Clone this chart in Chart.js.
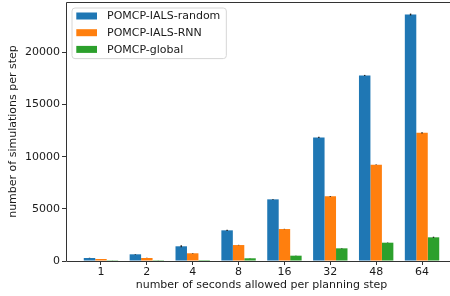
<!DOCTYPE html>
<html>
<head>
<meta charset="utf-8">
<script src="https://cdn.jsdelivr.net/npm/chart.js@4/dist/chart.umd.min.js"></script>
<style>
html, body { margin: 0; padding: 0; background: #fff; overflow: hidden; }
#wrap { width: 450px; height: 296px; overflow: hidden; }
</style>
</head>
<body>
<div id="wrap"><canvas id="chart" width="460" height="296"></canvas></div>
<script>
// categories (seconds allowed per planning step)
const seconds = ['1', '2', '4', '8', '16', '32', '48', '64'];
const seriesNames = ['POMCP-IALS-random', 'POMCP-IALS-RNN', 'POMCP-global'];
const seriesColors = ['#1f77b4', '#ff7f0e', '#2ca02c'];

// simulations per step
const ialsRandom = [290, 640, 1410, 2940, 5910, 11850, 17790, 23630];
const ialsRnn = [190, 290, 740, 1530, 3065, 6200, 9225, 12290];
const globalSims = [20, 80, 90, 260, 510, 1215, 1755, 2270];

// small error bars (barely visible)
const ialsRandomErr = [20, 30, 90, 60, 40, 60, 50, 90];
const ialsRnnErr = [10, 10, 20, 20, 20, 30, 30, 60];
const globalErr = [5, 5, 5, 10, 10, 20, 20, 60];

const yTicks = [0, 5000, 10000, 15000, 20000];

const seriesValues = [ialsRandom, ialsRnn, globalSims];
const seriesErrors = [ialsRandomErr, ialsRnnErr, globalErr];

const FONT = 'DejaVu Sans';
const TEXT = '#1a1a1a';

// draws the frame, error bars and the legend box
const extras = {
    id: 'extras',
    afterDatasetsDraw(chart) {
        const ctx = chart.ctx;
        const y = chart.scales.y;
        ctx.save();
        ctx.strokeStyle = '#222';
        ctx.lineWidth = 1.4;
        chart.data.datasets.forEach((ds, di) => {
            const meta = chart.getDatasetMeta(di);
            meta.data.forEach((bar, i) => {
                const v = seriesValues[di][i];
                const e = seriesErrors[di][i];
                ctx.beginPath();
                ctx.moveTo(bar.x, y.getPixelForValue(v - e));
                ctx.lineTo(bar.x, y.getPixelForValue(v + e));
                ctx.stroke();
            });
        });
        ctx.restore();
    },
    afterDraw(chart) {
        const ctx = chart.ctx;
        const a = chart.chartArea;
        ctx.save();
        // spines: left, top, bottom (right one is cropped away)
        ctx.strokeStyle = '#333';
        ctx.lineWidth = 1;
        ctx.beginPath();
        ctx.moveTo(a.right, a.top + 0.5);
        ctx.lineTo(a.left + 0.5, a.top + 0.5);
        ctx.lineTo(a.left + 0.5, a.bottom + 0.5);
        ctx.lineTo(a.right, a.bottom + 0.5);
        ctx.stroke();

        // legend
        ctx.font = '11px ' + FONT;
        const widths = seriesNames.map(n => ctx.measureText(n).width);
        const bx = a.left + 6, by = a.top + 6;
        const textX = bx + 35;
        const bw = textX - bx + Math.max(...widths) + 6;
        const bh = 50.6;
        ctx.beginPath();
        ctx.roundRect(bx, by, bw, bh, 3);
        ctx.fillStyle = 'rgba(255,255,255,0.8)';
        ctx.fill();
        ctx.strokeStyle = '#d6d6d6';
        ctx.stroke();
        ctx.textBaseline = 'middle';
        seriesNames.forEach((n, i) => {
            const cy = by + 8 + i * 16.7;
            ctx.fillStyle = seriesColors[i];
            ctx.fillRect(bx + 4.3, cy - 3.5, 20.7, 7);
            ctx.fillStyle = TEXT;
            ctx.fillText(n, textX, cy + 0.5);
        });
        ctx.restore();
    }
};

const ctx = document.getElementById('chart').getContext('2d');
new Chart(ctx, {
    type: 'bar',
    data: {
        datasets: seriesNames.map((name, di) => ({
            label: name,
            data: seriesValues[di].map((v, i) => ({ x: i, y: v })),
            backgroundColor: seriesColors[di],
            borderWidth: 0,
            categoryPercentage: 0.75,
            barPercentage: 1.0
        }))
    },
    options: {
        responsive: false,
        animation: false,
        devicePixelRatio: 1,
        layout: {
            padding: { top: 2, right: 3, left: 0, bottom: 0 }
        },
        plugins: {
            legend: { display: false },
            tooltip: { enabled: false }
        },
        scales: {
            x: {
                type: 'linear',
                offset: false,
                min: -0.7625,
                max: 7.7625,
                afterBuildTicks: s => { s.ticks = seconds.map((_, i) => ({ value: i })); },
                afterFit: s => {
                    s.height = 35;
                    s.paddingLeft = 0;
                    s.paddingRight = 0;
                },
                grid: {
                    offset: false,
                    drawOnChartArea: false,
                    tickLength: 4,
                    tickColor: '#333',
                    tickWidth: 1
                },
                border: { display: false },
                ticks: {
                    callback: v => seconds[v],
                    font: { size: 11, family: FONT },
                    color: TEXT,
                    padding: 1,
                    maxRotation: 0,
                    autoSkip: false
                },
                title: {
                    display: true,
                    text: 'number of seconds allowed per planning step',
                    font: { size: 11, family: FONT },
                    color: TEXT,
                    padding: { top: 0, bottom: 4 }
                }
            },
            y: {
                min: 0,
                max: 24830,
                afterBuildTicks: s => { s.ticks = yTicks.map(v => ({ value: v })); },
                afterFit: s => {
                    s.width = 66;
                    s.paddingTop = 0;
                    s.paddingBottom = 0;
                },
                grid: {
                    drawOnChartArea: false,
                    tickLength: 4,
                    tickColor: '#333',
                    tickWidth: 1
                },
                border: { display: false },
                ticks: {
                    callback: v => String(v),
                    font: { size: 11, family: FONT },
                    color: TEXT,
                    padding: 2
                },
                title: {
                    display: true,
                    text: 'number of simulations per step',
                    font: { size: 11, family: FONT },
                    color: TEXT,
                    padding: { top: 7, bottom: 0 }
                }
            }
        }
    },
    plugins: [extras]
});
</script>
</body>
</html>
